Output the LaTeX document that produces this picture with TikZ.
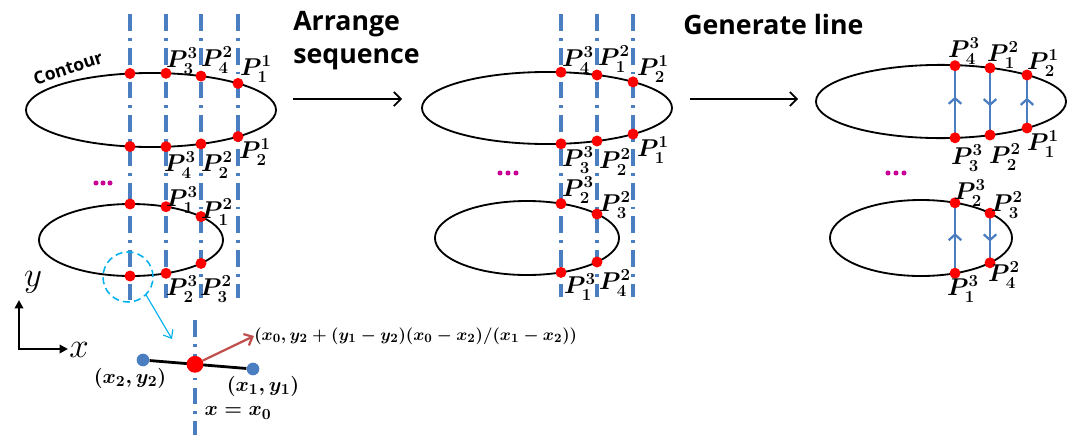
\documentclass[tikz,border=0pt]{standalone}
\usepackage{tikz,amsmath}
\usepackage{fontspec}
\newfontfamily\headfont{Open Sans}
\usetikzlibrary{arrows.meta,calc,decorations.markings}

\definecolor{cutblue}{RGB}{74,126,193}
\definecolor{ptred}{RGB}{255,0,0}
\definecolor{zoomcyan}{RGB}{0,176,240}
\definecolor{arrred}{RGB}{192,80,77}
\definecolor{dotmag}{RGB}{200,0,150}

\begin{document}
\begin{tikzpicture}[
  x=0.025cm, y=-0.025cm,
  >=Stealth,
  cut/.style={cutblue, line width=2.2pt, dash pattern=on 12pt off 5pt on 2pt off 5pt},
  contour/.style={line width=1.3pt},
  pt/.style={circle, fill=ptred, inner sep=0pt, minimum size=7.8pt},
  bpt/.style={circle, fill=cutblue, inner sep=0pt, minimum size=9pt},
  more/.style={circle, fill=dotmag, inner sep=0pt, minimum size=3.6pt},
  plab/.style={font=\boldmath\fontsize{17.5}{20}\selectfont, inner sep=0pt},
  mlab/.style={font=\boldmath\fontsize{15}{18}\selectfont, inner sep=0pt},
  head/.style={font=\headfont\bfseries\fontsize{19}{23.5}\selectfont, align=left, inner sep=0pt},
  go/.style={line width=1.2pt, -{Straight Barb[length=5pt, width=10pt]}},
  flow/.style={cutblue, line width=1.6pt, postaction={decorate},
    decoration={markings, mark=at position 0.57 with {\arrow{Straight Barb[length=4pt, width=9pt]}}}},
]
\useasboundingbox (0,0) rectangle (1072,435);

% Scan lines
\foreach \xa/\ya in {130/300, 166/298, 201/298, 238/298, 561/297, 597/297, 633/297}
  \draw[cut] (\xa,14) -- (\xa,\ya);

% Contours
\draw[contour] (151,110) ellipse [x radius=3.125cm, y radius=0.925cm];
\draw[contour] (131,240) ellipse [x radius=2.3cm, y radius=0.9cm];
\draw[contour] (547,108) ellipse [x radius=3.125cm, y radius=0.9cm];
\draw[contour] (527,238) ellipse [x radius=2.3cm, y radius=0.925cm];
\draw[contour] (941,101.5) ellipse [x radius=3.125cm, y radius=0.915cm];
\draw[contour] (921,238) ellipse [x radius=2.275cm, y radius=0.95cm];

\node[font=\headfont\bfseries\fontsize{12.5}{15}\selectfont, rotate=18] (contourlab) at (68,68) {Contour};

% Intersection points
\foreach \n/\p in {a1t/{130,73.5}, a2t/{166,73.3}, a3t/{201,76.1}, a4t/{238,83.4},
                   a1b/{130,146.5}, a2b/{166,146.7}, a3b/{201,143.9}, a4b/{238,136.6},
                   a1u/{130,204}, a2u/{166,206.7}, a3u/{201,216.6},
                   a1d/{130,276}, a2d/{166,273.3}, a3d/{201,263.4},
                   b1t/{561,72.2}, b2t/{597,75}, b3t/{633,81.9},
                   b1b/{561,143.8}, b2b/{597,141}, b3b/{633,134.1},
                   b1u/{561,203.6}, b2u/{597,214}, b1d/{561,272.4}, b2d/{597,262}}
  \node[pt] (\n) at (\p) {};

% Generated lines
\draw[flow] (955,137.8) coordinate (c1b) -- (955,65.7) coordinate (c1t);
\draw[flow] (990,68) coordinate (c2t) -- (990,135) coordinate (c2b);
\draw[flow] (1027,128) coordinate (c3b) -- (1027,75) coordinate (c3t);
\draw[flow] (955,273.2) coordinate (c1d) -- (955,202.8) coordinate (c1u);
\draw[flow] (990,213.2) coordinate (c2u) -- (990,262.8) coordinate (c2d);
\foreach \n in {c1b, c1t, c2t, c2b, c3b, c3t, c1d, c1u, c2u, c2d}
  \node[pt] at (\n) {};

% Point labels
\foreach \p/\i/\j [count=\k] in {{182,61}/3/3, {217,60}/2/4, {256,69}/1/1, {255,152}/1/2,
    {180,165}/3/4, {217,165}/2/2, {182,200}/3/1, {217,212}/2/1, {182,289}/3/2, {216,289}/2/3,
    {578,60}/3/4, {614,59}/2/1, {653,69}/1/2, {653,150}/1/1, {578,160}/3/3,
    {615,162}/2/2, {578,190}/3/2, {615,205}/2/3, {580,287}/3/1, {615,283}/2/4,
    {964,51}/3/4, {1003,55}/2/1, {1043,63}/1/2, {1043,144}/1/1, {967,158}/3/3,
    {1005,157}/2/2, {970,193}/3/2, {1007,205}/2/3, {963,289}/3/1, {1004,275}/2/4}
  \node[plab] (lab\k) at (\p) {$P^{\i}_{\j}$};

% More contours
\foreach \xa/\ya [count=\k] in {96/183, 103/183, 110/183, 500/173, 508/173, 516/173, 888/173, 896/173, 904/173}
  \node[more] (more\k) at (\xa,\ya) {};

% Steps
\node[head, anchor=north west] (arrange) at (293,11) {Arrange\\sequence};
\node[head, anchor=base west] (generate) at (683,34) {Generate line};
\coordinate (s1a) at (293,99);
\coordinate (s1b) at (402,99);
\coordinate (s2a) at (690,99);
\coordinate (s2b) at (798,99);
\draw[go] (s1a) -- (s1b);
\draw[go] (s2a) -- (s2b);

% Axes
\coordinate (O) at (19,349);
\coordinate (yend) at (19,300);
\coordinate (xend) at (68,349);
\draw[line width=2pt, {Triangle[length=6pt, width=6pt]}-{Triangle[length=6pt, width=6pt]}] (yend) -- (O) -- (xend);
\node[font=\fontsize{28}{30}\selectfont] (ylab) at (33,282) {$y$};
\node[font=\fontsize{28}{30}\selectfont] (xlab) at (79,350) {$x$};

% Zoomed crossing
\node[circle, draw=zoomcyan, line width=1.1pt, dash pattern=on 5pt off 3pt, minimum size=1.25cm] (zoom) at (128,277) {};
\coordinate (zoomend) at (172,339);
\draw[zoomcyan, line width=0.8pt, -{Straight Barb[length=5pt, width=8pt]}] (zoom.-45) -- (zoomend);

\draw[cut] (195,320) -- (195,435);
\node[bpt] (q2) at (143,360) {};
\node[bpt] (q1) at (253,369) {};
\draw[line width=2pt] (q2) -- (q1);
\node[pt, minimum size=12pt] (cross) at (195,364.3) {};
\coordinate (crossend) at (254,336);
\draw[arrred, line width=1.6pt, -{Straight Barb[length=5pt, width=9pt]}] (cross) -- (crossend);
\node[mlab, font=\boldmath\fontsize{13}{16}\selectfont, anchor=west] (formula) at (crossend) {$(x_0, y_2+(y_1-y_2)(x_0-x_2)/(x_1-x_2))$};
\node[mlab] (q2lab) at (130,378) {$(x_2, y_2)$};
\node[mlab] (q1lab) at (263,386) {$(x_1, y_1)$};
\node[mlab] (xzero) at (238,413) {$x=x_0$};

\end{tikzpicture}
\end{document}
